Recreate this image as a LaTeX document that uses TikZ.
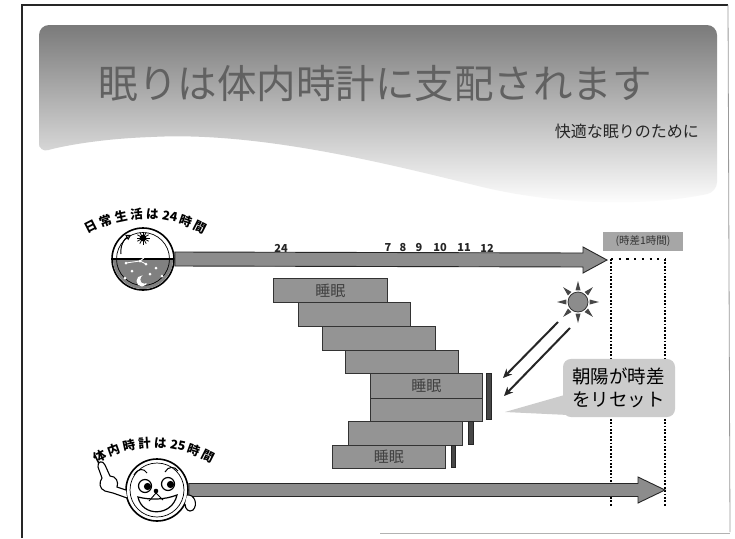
\documentclass[tikz,border=0pt]{standalone}
\usepackage{fontspec}
\setmainfont{Noto Sans CJK JP}
\usetikzlibrary{arrows.meta,calc}

\begin{document}
\begin{tikzpicture}[x=1pt,y=-1pt,
  sleepbar/.style={draw=black!80, line width=0.9pt, fill=black!42, anchor=north west,
    inner sep=0pt, text=black!75, font=\fontsize{15}{15}\selectfont},
  marker/.style={draw=black!85, fill=black!72, line width=0.4pt, anchor=north west, inner sep=0pt},
  blockarrow/.style={draw=black!85, line width=0.9pt, fill=black!45, line join=miter},
  tick/.style={font=\fontsize{11}{11}\selectfont\bfseries, text=black!85, inner sep=0pt},
  arclabel/.style={font=\fontsize{12.5}{12.5}\selectfont\bfseries, inner sep=0pt},
  dotline/.style={line width=1.8pt, dash pattern=on 1.8pt off 1.6pt},
  ray/.style={-{Stealth[length=9pt,width=8pt]}, line width=2pt, draw=black!85},
  bubble/.style={fill=black!20, rounded corners=8pt, minimum width=112pt, minimum height=55pt,
    inner sep=9pt, text width=94pt, align=left, font=\fontsize{18.5}{23}\selectfont},
]
\useasboundingbox (0,0) rectangle (735,538);
\fill[white] (0,0) rectangle (735,538);

% page frame
\draw[black!85, line width=1.2pt] (22,538) -- (22,5) -- (728,5);
\draw[black!40, line width=0.8pt] (728,5) -- (730,532);
\draw[black!30, line width=0.8pt] (380,533) -- (730,533);

% title band with wavy lower edge
\shade[top color=black!52, bottom color=white, rounded corners=10pt]
  (39,153) -- (39,25) -- (717,25) -- (717,192)
  .. controls (650,206) and (560,206) .. (470,184)
  .. controls (380,162) and (260,133) .. (150,137)
  .. controls (90,140) and (55,148) .. (39,153) -- cycle;

\node[font=\fontsize{39.5}{40}\selectfont, text=black!62, inner sep=0pt] (title) at (375,84)
  {眠りは体内時計に支配されます};
\node[font=\fontsize{16}{16}\selectfont, text=black!85, anchor=east, inner sep=0pt] (subtitle)
  at (699,131) {快適な眠りのために};

% ---- daily 24h timeline ----
\node[circle, draw=black, line width=1.6pt, minimum size=62pt, inner sep=0pt, fill=white] (clock) at (143,259) {};
\coordinate (tip1) at (607,260);
\draw[blockarrow] ($(clock.east)+(0,-7)$) -- (583,253) -- (583,247) -- (tip1)
  -- (583,273) -- (583,267) -- ($(clock.east)+(0,7)$) -- cycle;

% clock face details
\begin{scope}
  \clip (clock.center) circle (30);
  \fill[black!50] (110,259) rectangle (177,292);
\end{scope}
\draw[line width=0.7pt] (clock.center) circle (26.5);
\draw[line width=1.2pt] (113,259) -- (173,259);
\foreach \a in {0,30,...,330} \draw[line width=0.8pt] (143,238) -- ++(\a:6.5);
\fill (143,238) circle (3.3);
\draw[line width=1pt, -{Triangle[open,length=5pt,width=6pt]}]
  (121,254) .. controls (120,246) and (124,239) .. (131,235);
\draw[line width=0.8pt, white] (126,263) -- (140,261) -- (146,264);
\draw[line width=1pt, white, -{Triangle[open,length=5pt,width=5pt]}] (140,261) -- (157,247);
\foreach \p in {(126,263),(140,261),(146,264),(132,271),(156,268),(162,276),(125,278),(150,274)}
  \fill[white] \p circle (1.5);
\fill[white] (142,281) circle (5.5);
\fill[black!50] (144.5,279.5) circle (4.2);

% curved caption over the clock
\foreach \ch/\t [count=\i] in {日/-27,常/-19.5,生/-12,活/-4.5,は/3,24/11.5,時/19.5,間/27}
  \node[arclabel, rotate=-\t] (daily-\i) at ({146+120*sin(\t)},{334-120*cos(\t)}) {\ch};

% hour ticks
\node[tick] (h24) at (281,248) {24};
\node[tick] (h7)  at (388,248) {7};
\node[tick] (h8)  at (403,248) {8};
\node[tick] (h9)  at (419,248) {9};
\node[tick] (h10) at (440,248) {10};
\node[tick] (h11) at (464,248) {11};
\node[tick] (h12) at (487,248) {12};

% one-hour lag band
\node[fill=black!35, font=\fontsize{10.5}{11}\selectfont, text=black!80, minimum width=80pt,
  minimum height=19pt, inner sep=0pt] (lag) at (643,241) {(時差1時間)};
\coordinate (lag-tl) at (611,259);
\coordinate (lag-tr) at (665,259);
\coordinate (lag-bl) at (611,507);
\coordinate (lag-br) at (665,507);
\draw[line width=2.2pt, dash pattern=on 2.2pt off 5.5pt] (lag-tl) -- (lag-tr);
\draw[dotline] (lag-tl) -- (lag-bl);
\draw[dotline] (lag-tr) -- (lag-br);

% ---- sleep blocks drifting later each day ----
\node[sleepbar, minimum width=114pt, minimum height=24pt] (s1) at (273,278) {睡眠};
\node[sleepbar, minimum width=112pt, minimum height=24pt] (s2) at (298,302) {};
\node[sleepbar, minimum width=113pt, minimum height=24pt] (s3) at (322,326) {};
\node[sleepbar, minimum width=113pt, minimum height=23pt] (s4) at (345,350) {};
\node[sleepbar, minimum width=112pt, minimum height=25pt] (s5) at (370,373) {睡眠};
\node[sleepbar, minimum width=112pt, minimum height=23pt] (s6) at (370,398) {};
\node[sleepbar, minimum width=114pt, minimum height=24pt] (s7) at (348,421) {};
\node[sleepbar, minimum width=113pt, minimum height=23pt] (s8) at (332,445) {睡眠};

\node[marker, minimum width=5pt, minimum height=46pt] (m1) at (486,373) {};
\node[marker, minimum width=4.5pt, minimum height=23pt] (m2) at (468,421) {};
\node[marker, minimum width=4pt, minimum height=22pt] (m3) at (451,445) {};

% ---- morning sun ----
\node[circle, draw=black!80, fill=black!45, minimum size=20pt, inner sep=0pt, line width=0.8pt] (sun) at (578,302) {};
\foreach \a in {0,45,...,315}
  \fill[black!72] ($(sun.center)+(\a:21)$) -- ($(sun.center)+(\a+12:12)$) -- ($(sun.center)+(\a-12:12)$) -- cycle;
\coordinate (beam1) at (503,378);
\coordinate (beam2) at (504,396);
\draw[ray] ($(sun.center)+(-20,20)$) -- (beam1);
\draw[ray] ($(sun.center)+(-8,26)$) -- (beam2);

% callout
\coordinate (reset-tip) at (505,412);
\node[bubble] (reset) at (619,388) {朝陽が時差\\をリセット};
\fill[black!20] ($(reset.south west)+(1,-22)$) -- (reset-tip) -- ($(reset.south west)+(10,-2)$) -- cycle;

% ---- body clock 25h timeline ----
\node[circle, draw=black, line width=1.6pt, minimum size=62pt, inner sep=0pt, fill=white] (face) at (157,490) {};
\coordinate (tip2) at (665,490);
\draw[blockarrow] ($(face.east)+(0,-6.5)$) -- (638,483.5) -- (638,477) -- (tip2)
  -- (638,503) -- (638,496.5) -- ($(face.east)+(0,6.5)$) -- cycle;

% smiling face
\draw[line width=0.7pt] (face.center) circle (27);
\draw[line width=1pt] (134,475) .. controls (138,468) and (144,468) .. (147,473);
\draw[line width=1pt] (165,472) .. controls (168,466) and (175,466) .. (178,471);
\draw[line width=1.2pt, fill=white] (145,486) circle (6.5);
\draw[line width=1.2pt, fill=white] (168,484) circle (6.5);
\fill (147.5,486.5) circle (3.6);
\fill (170.5,484.5) circle (3.6);
\fill (156,491) circle (2.3);
\draw[line width=1.2pt, fill=white] (138,497) .. controls (142,517) and (172,517) .. (177,495)
  .. controls (164,500) and (150,500) .. (138,497) -- cycle;
\draw[line width=0.9pt] (149,501) -- (156,493) -- (163,500);
% pointing hand and right hand
\draw[line width=1.1pt, fill=white] (127,498) -- (113,493) -- (105,491)
  .. controls (99,489) and (99,482) .. (102,478) -- (98,467)
  .. controls (97,461) and (103,460) .. (105,465) -- (110,476)
  .. controls (116,476) and (119,482) .. (117,487) -- (126,490);
\draw[line width=1.1pt, fill=white] (187,495) .. controls (195,494) and (198,505) .. (193,510)
  .. controls (189,513) and (185,509) .. (185,504);

% curved caption over the face
\foreach \ch/\t [count=\i] in {体/-27,内/-19.5,時/-12,計/-4.5,は/3,25/11.5,時/19.5,間/27}
  \node[arclabel, rotate=-\t] (body-\i) at ({154+120*sin(\t)},{563-120*cos(\t)}) {\ch};

\end{tikzpicture}
\end{document}
